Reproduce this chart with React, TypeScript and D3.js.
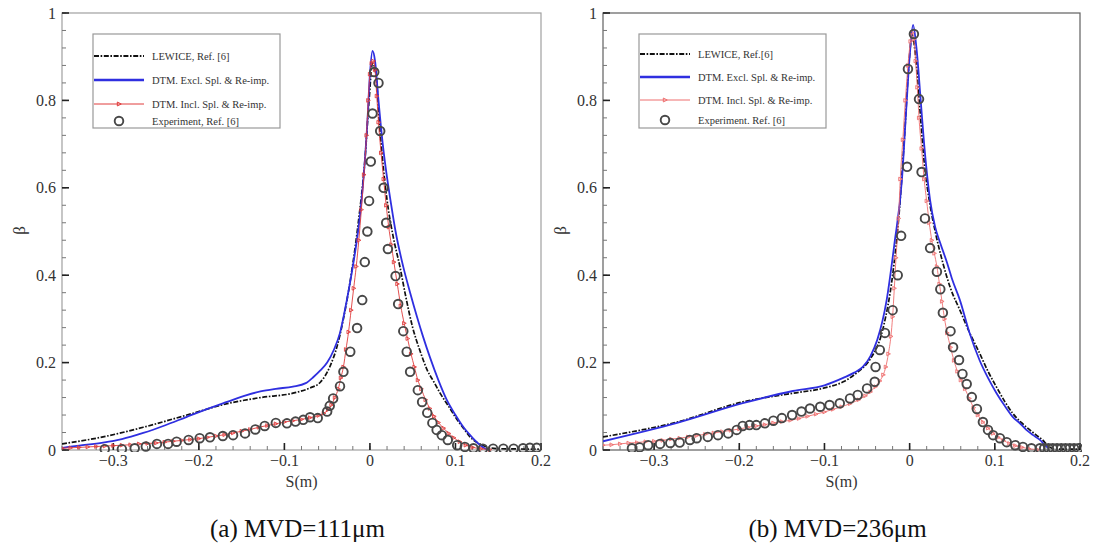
import React from "react";
import * as d3 from "d3";

type Pt = [number, number];

// Collection efficiency beta along the surface coordinate S (m)
// (a) MVD = 111 um
const lewiceA: Pt[] = [
  [-0.36, 0.014], [-0.312, 0.03], [-0.265, 0.052], [-0.214, 0.08], [-0.167, 0.106],
  [-0.128, 0.12], [-0.09, 0.13], [-0.07, 0.142], [-0.058, 0.155], [-0.047, 0.19],
  [-0.038, 0.24], [-0.031, 0.3], [-0.022, 0.4], [-0.013, 0.53], [-0.006, 0.66],
  [-0.001, 0.8], [0.003, 0.885], [0.007, 0.86], [0.011, 0.75], [0.016, 0.64],
  [0.02, 0.572], [0.027, 0.49], [0.035, 0.42], [0.042, 0.35], [0.05, 0.28],
  [0.058, 0.23], [0.067, 0.183], [0.075, 0.155], [0.082, 0.13], [0.092, 0.1],
  [0.102, 0.069], [0.11, 0.048], [0.117, 0.03], [0.127, 0.015], [0.137, 0.007],
  [0.15, 0.003], [0.2, 0.002],
];
const exclA: Pt[] = [
  [-0.36, 0.005], [-0.34, 0.01], [-0.312, 0.017], [-0.29, 0.025], [-0.265, 0.039],
  [-0.24, 0.056], [-0.214, 0.076], [-0.19, 0.094], [-0.167, 0.11], [-0.145, 0.125],
  [-0.128, 0.134], [-0.11, 0.14], [-0.09, 0.145], [-0.075, 0.153], [-0.066, 0.167],
  [-0.058, 0.182], [-0.05, 0.2], [-0.042, 0.23], [-0.035, 0.268], [-0.027, 0.343],
  [-0.02, 0.42], [-0.012, 0.53], [-0.008, 0.61], [-0.003, 0.75], [0.0, 0.86],
  [0.003, 0.913], [0.006, 0.89], [0.01, 0.8], [0.015, 0.7], [0.021, 0.61],
  [0.024, 0.572], [0.03, 0.5], [0.039, 0.419], [0.047, 0.36], [0.055, 0.305],
  [0.062, 0.26], [0.07, 0.213], [0.08, 0.16], [0.09, 0.114], [0.1, 0.08],
  [0.109, 0.053], [0.12, 0.028], [0.129, 0.011], [0.135, 0.003], [0.14, 0.0],
];
const inclA: Pt[] = [
  [-0.36, 0.004], [-0.35, 0.005], [-0.34, 0.006], [-0.33, 0.007], [-0.32, 0.008],
  [-0.31, 0.009], [-0.3, 0.01], [-0.29, 0.011], [-0.28, 0.012], [-0.27, 0.014],
  [-0.26, 0.015], [-0.25, 0.016], [-0.24, 0.018], [-0.23, 0.02], [-0.22, 0.022],
  [-0.21, 0.024], [-0.2, 0.026], [-0.19, 0.029], [-0.18, 0.032], [-0.17, 0.035],
  [-0.16, 0.039], [-0.15, 0.043], [-0.14, 0.047], [-0.13, 0.052], [-0.12, 0.056],
  [-0.11, 0.06], [-0.1, 0.064], [-0.09, 0.067], [-0.08, 0.07], [-0.07, 0.074],
  [-0.06, 0.079], [-0.054, 0.084], [-0.049, 0.092], [-0.045, 0.103], [-0.041, 0.12],
  [-0.037, 0.14], [-0.034, 0.165], [-0.031, 0.19], [-0.028, 0.23], [-0.025, 0.27],
  [-0.022, 0.32], [-0.019, 0.37], [-0.016, 0.42], [-0.013, 0.48], [-0.01, 0.55],
  [-0.007, 0.63], [-0.004, 0.72], [-0.002, 0.8], [0.0, 0.86], [0.002, 0.885],
  [0.004, 0.89], [0.006, 0.87], [0.008, 0.81], [0.01, 0.75], [0.013, 0.68],
  [0.016, 0.62], [0.019, 0.56], [0.022, 0.51], [0.025, 0.47], [0.028, 0.43],
  [0.032, 0.38], [0.036, 0.33], [0.04, 0.29], [0.044, 0.255], [0.048, 0.22],
  [0.052, 0.19], [0.056, 0.16], [0.06, 0.14], [0.065, 0.115], [0.07, 0.095],
  [0.075, 0.077], [0.08, 0.063], [0.086, 0.05], [0.092, 0.038], [0.098, 0.028],
  [0.105, 0.019], [0.112, 0.011], [0.12, 0.006], [0.13, 0.003], [0.14, 0.001],
];
const expA: Pt[] = [
  [-0.31, 0.002], [-0.29, 0.002], [-0.275, 0.004], [-0.262, 0.008], [-0.249, 0.014],
  [-0.236, 0.014], [-0.226, 0.019], [-0.212, 0.023], [-0.199, 0.027], [-0.187, 0.029],
  [-0.172, 0.032], [-0.16, 0.034], [-0.146, 0.038], [-0.134, 0.047], [-0.123, 0.055],
  [-0.11, 0.062], [-0.097, 0.061], [-0.087, 0.065], [-0.078, 0.069], [-0.07, 0.075],
  [-0.061, 0.073], [-0.05, 0.088], [-0.047, 0.101], [-0.043, 0.118], [-0.035, 0.146],
  [-0.031, 0.179], [-0.023, 0.225], [-0.015, 0.279], [-0.009, 0.343], [-0.006, 0.43],
  [-0.003, 0.5], [-0.001, 0.57], [0.001, 0.66], [0.003, 0.77], [0.005, 0.865],
  [0.01, 0.84], [0.012, 0.73], [0.016, 0.6], [0.019, 0.52], [0.021, 0.46],
  [0.03, 0.398], [0.033, 0.334], [0.039, 0.272], [0.043, 0.225], [0.047, 0.179],
  [0.056, 0.137], [0.061, 0.11], [0.067, 0.085], [0.073, 0.062], [0.078, 0.046],
  [0.084, 0.034], [0.091, 0.023], [0.102, 0.011], [0.111, 0.007], [0.121, 0.004],
  [0.132, 0.003], [0.144, 0.003], [0.156, 0.003], [0.168, 0.003], [0.179, 0.004],
  [0.187, 0.005], [0.195, 0.005],
];

// (b) MVD = 236 um
const lewiceB: Pt[] = [
  [-0.36, 0.03], [-0.273, 0.064], [-0.196, 0.11], [-0.137, 0.13], [-0.1, 0.142],
  [-0.078, 0.156], [-0.06, 0.18], [-0.047, 0.206], [-0.031, 0.28], [-0.02, 0.4],
  [-0.012, 0.55], [-0.006, 0.72], [-0.001, 0.88], [0.003, 0.95], [0.007, 0.9],
  [0.012, 0.78], [0.017, 0.66], [0.024, 0.56], [0.03, 0.5], [0.039, 0.428],
  [0.048, 0.37], [0.059, 0.32], [0.07, 0.27], [0.082, 0.222], [0.092, 0.18],
  [0.102, 0.144], [0.112, 0.11], [0.121, 0.084], [0.131, 0.063], [0.141, 0.046],
  [0.15, 0.032], [0.156, 0.023], [0.162, 0.011], [0.167, 0.004], [0.175, 0.002],
  [0.2, 0.002],
];
const exclB: Pt[] = [
  [-0.36, 0.02], [-0.273, 0.062], [-0.196, 0.107], [-0.137, 0.135], [-0.1, 0.148],
  [-0.078, 0.165], [-0.065, 0.177], [-0.055, 0.19], [-0.046, 0.215], [-0.038, 0.252],
  [-0.027, 0.343], [-0.018, 0.47], [-0.009, 0.62], [-0.004, 0.78], [0.0, 0.9],
  [0.004, 0.973], [0.008, 0.92], [0.013, 0.8], [0.017, 0.7], [0.021, 0.62],
  [0.024, 0.572], [0.03, 0.51], [0.036, 0.473], [0.044, 0.428], [0.05, 0.39],
  [0.059, 0.343], [0.07, 0.27], [0.082, 0.206], [0.092, 0.165], [0.102, 0.13],
  [0.112, 0.1], [0.121, 0.076], [0.13, 0.06], [0.137, 0.046], [0.145, 0.034],
  [0.153, 0.023], [0.159, 0.011], [0.163, 0.004],
];
const inclB: Pt[] = [
  [-0.36, 0.011], [-0.35, 0.012], [-0.34, 0.014], [-0.33, 0.016], [-0.32, 0.017],
  [-0.31, 0.019], [-0.3, 0.02], [-0.29, 0.022], [-0.28, 0.025], [-0.27, 0.027],
  [-0.26, 0.03], [-0.25, 0.033], [-0.24, 0.036], [-0.23, 0.039], [-0.22, 0.042],
  [-0.21, 0.045], [-0.2, 0.048], [-0.19, 0.052], [-0.18, 0.055], [-0.17, 0.058],
  [-0.16, 0.062], [-0.15, 0.065], [-0.14, 0.068], [-0.13, 0.072], [-0.12, 0.077],
  [-0.11, 0.082], [-0.1, 0.087], [-0.09, 0.093], [-0.08, 0.099], [-0.07, 0.106],
  [-0.06, 0.115], [-0.052, 0.124], [-0.046, 0.133], [-0.04, 0.145], [-0.035, 0.158],
  [-0.031, 0.172], [-0.028, 0.19], [-0.025, 0.22], [-0.022, 0.26], [-0.02, 0.305],
  [-0.018, 0.37], [-0.016, 0.44], [-0.013, 0.53], [-0.011, 0.62], [-0.008, 0.71],
  [-0.005, 0.8], [-0.002, 0.88], [0.001, 0.935], [0.003, 0.955], [0.005, 0.94],
  [0.007, 0.89], [0.009, 0.83], [0.011, 0.76], [0.014, 0.69], [0.017, 0.62],
  [0.02, 0.57], [0.023, 0.52], [0.026, 0.48], [0.029, 0.45], [0.032, 0.42],
  [0.035, 0.38], [0.038, 0.34], [0.041, 0.3], [0.044, 0.268], [0.048, 0.235],
  [0.052, 0.205], [0.056, 0.18], [0.06, 0.16], [0.065, 0.14], [0.07, 0.118],
  [0.075, 0.097], [0.08, 0.08], [0.086, 0.064], [0.092, 0.05], [0.098, 0.038],
  [0.104, 0.029], [0.11, 0.022], [0.117, 0.015], [0.124, 0.01], [0.132, 0.006],
  [0.14, 0.003], [0.15, 0.001],
];
const expB: Pt[] = [
  [-0.326, 0.004], [-0.317, 0.006], [-0.307, 0.011], [-0.293, 0.014], [-0.281, 0.016],
  [-0.27, 0.017], [-0.258, 0.023], [-0.25, 0.027], [-0.237, 0.03], [-0.225, 0.034],
  [-0.213, 0.038], [-0.203, 0.046], [-0.196, 0.055], [-0.188, 0.057], [-0.18, 0.057],
  [-0.17, 0.061], [-0.16, 0.067], [-0.15, 0.073], [-0.138, 0.08], [-0.127, 0.088],
  [-0.117, 0.095], [-0.105, 0.099], [-0.094, 0.103], [-0.082, 0.107], [-0.07, 0.118],
  [-0.061, 0.126], [-0.05, 0.141], [-0.041, 0.156], [-0.04, 0.19], [-0.035, 0.229],
  [-0.029, 0.268], [-0.02, 0.32], [-0.014, 0.4], [-0.01, 0.49], [-0.003, 0.648],
  [-0.002, 0.872], [0.005, 0.952], [0.011, 0.803], [0.014, 0.636], [0.018, 0.53],
  [0.024, 0.462], [0.032, 0.408], [0.036, 0.368], [0.039, 0.314], [0.048, 0.272],
  [0.051, 0.235], [0.058, 0.206], [0.062, 0.174], [0.067, 0.151], [0.073, 0.121],
  [0.079, 0.094], [0.086, 0.064], [0.092, 0.046], [0.098, 0.034], [0.106, 0.027],
  [0.114, 0.018], [0.124, 0.011], [0.133, 0.007], [0.143, 0.004], [0.153, 0.004],
  [0.158, 0.004], [0.163, 0.004], [0.168, 0.004], [0.173, 0.004], [0.178, 0.004],
  [0.183, 0.004], [0.188, 0.004], [0.193, 0.004], [0.198, 0.004],
];

const X_TICKS = [-0.3, -0.2, -0.1, 0, 0.1, 0.2];
const Y_TICKS = [0, 0.2, 0.4, 0.6, 0.8, 1];
const X_DOMAIN: [number, number] = [-0.36, 0.2];
const Y_DOMAIN: [number, number] = [0, 1];

const FONT = "'Liberation Serif', 'Times New Roman', serif";

type LegendCfg = { x: number; y: number; w: number; h: number; rows: number[]; labels: string[] };

type PanelProps = {
  left: number;
  right: number;
  top: number;
  bottom: number;
  lewice: Pt[];
  excl: Pt[];
  incl: Pt[];
  exp: Pt[];
  redColor: string;
  frameColor: string;
  legend: LegendCfg;
  caption: string;
};

const tri = (x: number, y: number, s: number) =>
  `M${x - s * 0.6},${y - s * 0.7}L${x + s * 0.8},${y}L${x - s * 0.6},${y + s * 0.7}Z`;

function Panel(p: PanelProps) {
  const x = d3.scaleLinear().domain(X_DOMAIN).range([p.left, p.right]);
  const y = d3.scaleLinear().domain(Y_DOMAIN).range([p.bottom, p.top]);
  const line = d3
    .line<Pt>()
    .x((d) => x(d[0]))
    .y((d) => y(d[1]))
    .curve(d3.curveMonotoneX);

  const xMinor = d3.range(-18, 11).map((i) => +(i * 0.02).toFixed(3)).filter((v) => v >= X_DOMAIN[0] && v <= X_DOMAIN[1]);
  const yMinor = d3.range(0, 26).map((i) => +(i * 0.04).toFixed(3)).filter((v) => v <= 1);
  const cx = (p.left + p.right) / 2;
  const lg = p.legend;
  const lx0 = lg.x + 1;
  const lx1 = lg.x + 51;
  const tx = lg.x + 59;

  return (
    <g>
      <defs>
        <clipPath id={`clip-${p.left}`}>
          <rect x={p.left} y={p.top - 6} width={p.right - p.left + 2} height={p.bottom - p.top + 8} />
        </clipPath>
      </defs>
      {/* frame */}
      <rect x={p.left} y={p.top} width={p.right - p.left} height={p.bottom - p.top} fill="none" stroke={p.frameColor} strokeWidth={1.2} />
      {/* minor ticks */}
      {xMinor.map((v) => (
        <line key={`xm${v}`} x1={x(v)} x2={x(v)} y1={p.bottom} y2={p.bottom - 4} stroke="#777" strokeWidth={1} />
      ))}
      {yMinor.map((v) => (
        <line key={`ym${v}`} x1={p.left} x2={p.left + 4} y1={y(v)} y2={y(v)} stroke="#777" strokeWidth={1} />
      ))}
      {/* major ticks + labels */}
      {X_TICKS.map((v) => (
        <g key={`x${v}`}>
          <line x1={x(v)} x2={x(v)} y1={p.bottom} y2={p.bottom - 7} stroke="#222" strokeWidth={1.6} />
          <text x={x(v)} y={p.bottom + 16} textAnchor="middle" fontFamily={FONT} fontSize={16} fill="#333">
            {d3.format("")(v)}
          </text>
        </g>
      ))}
      {Y_TICKS.map((v) => (
        <g key={`y${v}`}>
          <line x1={p.left} x2={p.left + 7} y1={y(v)} y2={y(v)} stroke="#222" strokeWidth={1.6} />
          <text x={p.left - 6} y={y(v) + 5.5} textAnchor="end" fontFamily={FONT} fontSize={16} fill="#333">
            {d3.format("")(v)}
          </text>
        </g>
      ))}
      <text x={cx} y={p.bottom + 37} textAnchor="middle" fontFamily={FONT} fontSize={16} fill="#333">
        S(m)
      </text>
      <text
        transform={`translate(${p.left - 37},${(p.top + p.bottom) / 2 - 1}) rotate(-90)`}
        textAnchor="middle"
        fontFamily={FONT}
        fontSize={17}
        fill="#333"
      >
        β
      </text>

      <g clipPath={`url(#clip-${p.left})`}>
        <path d={line(p.lewice) ?? ""} fill="none" stroke="#111" strokeWidth={1.7} strokeDasharray="5,1.6,1.6,1.6" />
        <path d={line(p.excl) ?? ""} fill="none" stroke="#2f2fe0" strokeWidth={1.8} />
        <path d={line(p.incl) ?? ""} fill="none" stroke={p.redColor} strokeWidth={0.9} />
        {p.incl.map((d, i) => (
          <path key={`t${i}`} d={tri(x(d[0]), y(d[1]), 2.6)} fill="none" stroke={p.redColor} strokeWidth={0.9} />
        ))}
        {p.exp.map((d, i) => (
          <circle key={`c${i}`} cx={x(d[0])} cy={y(d[1])} r={4.3} fill="none" stroke="#474747" strokeWidth={1.9} />
        ))}
      </g>

      {/* legend */}
      <rect x={lg.x} y={lg.y} width={lg.w} height={lg.h} fill="#fff" stroke="#999" strokeWidth={1.2} />
      <line x1={lx0} x2={lx1} y1={lg.rows[0]} y2={lg.rows[0]} stroke="#111" strokeWidth={2} strokeDasharray="5,1.6,1.6,1.6" />
      <line x1={lx0} x2={lx1} y1={lg.rows[1]} y2={lg.rows[1]} stroke="#2f2fe0" strokeWidth={2.4} />
      <line x1={lx0} x2={lx1} y1={lg.rows[2]} y2={lg.rows[2]} stroke={p.redColor} strokeWidth={1} />
      <path d={tri((lx0 + lx1) / 2, lg.rows[2], 2.8)} fill="none" stroke={p.redColor} strokeWidth={1} />
      <circle cx={(lx0 + lx1) / 2} cy={lg.rows[3]} r={4.3} fill="none" stroke="#474747" strokeWidth={1.9} />
      {lg.labels.map((t, i) => (
        <text key={t} x={tx} y={lg.rows[i] + 3.8} fontFamily={FONT} fontSize={10.5} fill="#333">
          {t}
        </text>
      ))}

      <text x={cx - 4} y={537} textAnchor="middle" fontFamily={FONT} fontSize={25} fill="#111">
        {p.caption}
      </text>
    </g>
  );
}

export default function App() {
  return (
    <svg
      width={1095}
      height={547}
      viewBox="0 0 1095 547"
      style={{ position: "absolute", left: 0, top: 0, background: "#fff" }}
    >
      <rect width={1095} height={547} fill="#fff" />
      <Panel
        left={62}
        right={541}
        top={13}
        bottom={450}
        lewice={lewiceA}
        excl={exclA}
        incl={inclA}
        exp={expA}
        redColor="#e03c3c"
        frameColor="#a0a0a0"
        legend={{
          x: 93,
          y: 34,
          w: 187,
          h: 94,
          rows: [56, 80, 104, 121],
          labels: ["LEWICE, Ref. [6]", "DTM. Excl. Spl. & Re-imp.", "DTM. Incl. Spl. & Re-imp.", "Experiment, Ref. [6]"],
        }}
        caption="(a) MVD=111μm"
      />
      <Panel
        left={603}
        right={1080}
        top={13}
        bottom={450}
        lewice={lewiceB}
        excl={exclB}
        incl={inclB}
        exp={expB}
        redColor="#ee6f6f"
        frameColor="#606060"
        legend={{
          x: 639,
          y: 34,
          w: 187,
          h: 94,
          rows: [54, 77, 100, 120],
          labels: ["LEWICE, Ref.[6]", "DTM. Excl. Spl. & Re-imp.", "DTM. Incl. Spl. & Re-imp.", "Experiment. Ref. [6]"],
        }}
        caption="(b) MVD=236μm"
      />
    </svg>
  );
}
